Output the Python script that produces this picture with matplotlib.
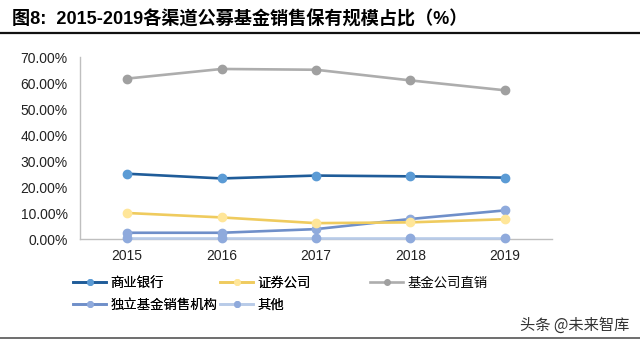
import matplotlib.pyplot as plt
from matplotlib.lines import Line2D

plt.rcParams["font.family"] = ["Liberation Sans", "Noto Sans CJK SC", "DejaVu Sans"]

years = ["2015", "2016", "2017", "2018", "2019"]
bank = [25.1, 23.3, 24.4, 24.1, 23.6]
securities = [10.0, 8.3, 6.1, 6.4, 7.6]
fund_direct = [61.7, 65.4, 65.1, 61.0, 57.2]
independent = [2.4, 2.4, 3.8, 7.7, 11.0]
others = [0.4, 0.4, 0.4, 0.4, 0.4]

labels = ["商业银行", "证券公司", "基金公司直销", "独立基金销售机构", "其他"]
series = [bank, securities, fund_direct, independent, others]
line_colors = ["#1F5C99", "#EFCB5E", "#ADADAD", "#6F8FC9", "#B8CBE8"]
marker_colors = ["#5B9BD5", "#FFE699", "#A0A0A0", "#8FAADC", "#8FAADC"]

fig = plt.figure(figsize=(6.4, 3.43), dpi=100)
ax = fig.add_axes([0.125, 0.3032, 0.7375, 0.5306])

x = list(range(len(years)))
handles = []
# draw back to front so the bank line sits on top like the original
order = [4, 3, 1, 2, 0]
for k, i in enumerate(order):
    ax.plot(x, series[i], color=line_colors[i], lw=1.9, marker="o", ms=6,
            mfc=marker_colors[i], mec=marker_colors[i], zorder=3 + k * 0.1,
            clip_on=False)
for i in range(5):
    handles.append(Line2D([], [], color=line_colors[i], lw=1.9, marker="o", ms=4,
                          mfc=marker_colors[i], mec=marker_colors[i]))

ax.set_xlim(-0.5, 4.5)
ax.set_ylim(0, 70)
ticks = [0, 10, 20, 30, 40, 50, 60, 70]
ax.set_yticks(ticks)
ax.set_yticklabels([f"{v:.2f}%" for v in ticks])
ax.set_xticks(x)
ax.set_xticklabels(years)
ax.tick_params(length=0, labelsize=10, colors="#222222")
ax.tick_params(axis="x", pad=7)
ax.tick_params(axis="y", pad=9)
for s in ["top", "right"]:
    ax.spines[s].set_visible(False)
for s in ["left", "bottom"]:
    ax.spines[s].set_color("#BFBFBF")
    ax.spines[s].set_linewidth(1.0)

leg_font = {"family": ["Noto Sans CJK SC"], "size": 9.6}
leg_kw = dict(loc="upper left", frameon=False, prop=leg_font, handlelength=2.5,
              handletextpad=0.3, labelspacing=0.62, borderaxespad=0, borderpad=0)
leg1 = fig.legend([handles[0], handles[3], handles[1], handles[4]],
                  [labels[0], labels[3], labels[1], labels[4]],
                  ncol=2, bbox_to_anchor=(0.114, 0.197), columnspacing=0.2, **leg_kw)
fig.add_artist(leg1)
fig.legend([handles[2]], [labels[2]], bbox_to_anchor=(0.578, 0.197), **leg_kw)

fig.text(0.019, 0.944, "图8:  2015-2019各渠道公募基金销售保有规模占比（%）",
         fontsize=13.1, fontweight="bold", va="center",
         family=["Liberation Sans", "Noto Sans CJK SC"])
fig.add_artist(Line2D([0, 1], [0.903, 0.903], color="#111111", lw=1.6))
fig.add_artist(Line2D([0, 1], [0.015, 0.015], color="#555555", lw=1.2))
fig.text(0.983, 0.052, "头条 @未来智库", fontsize=11, ha="right", va="center",
         color="#333333", family=["Noto Sans CJK SC"])

fig.savefig("out.png", dpi=100)
